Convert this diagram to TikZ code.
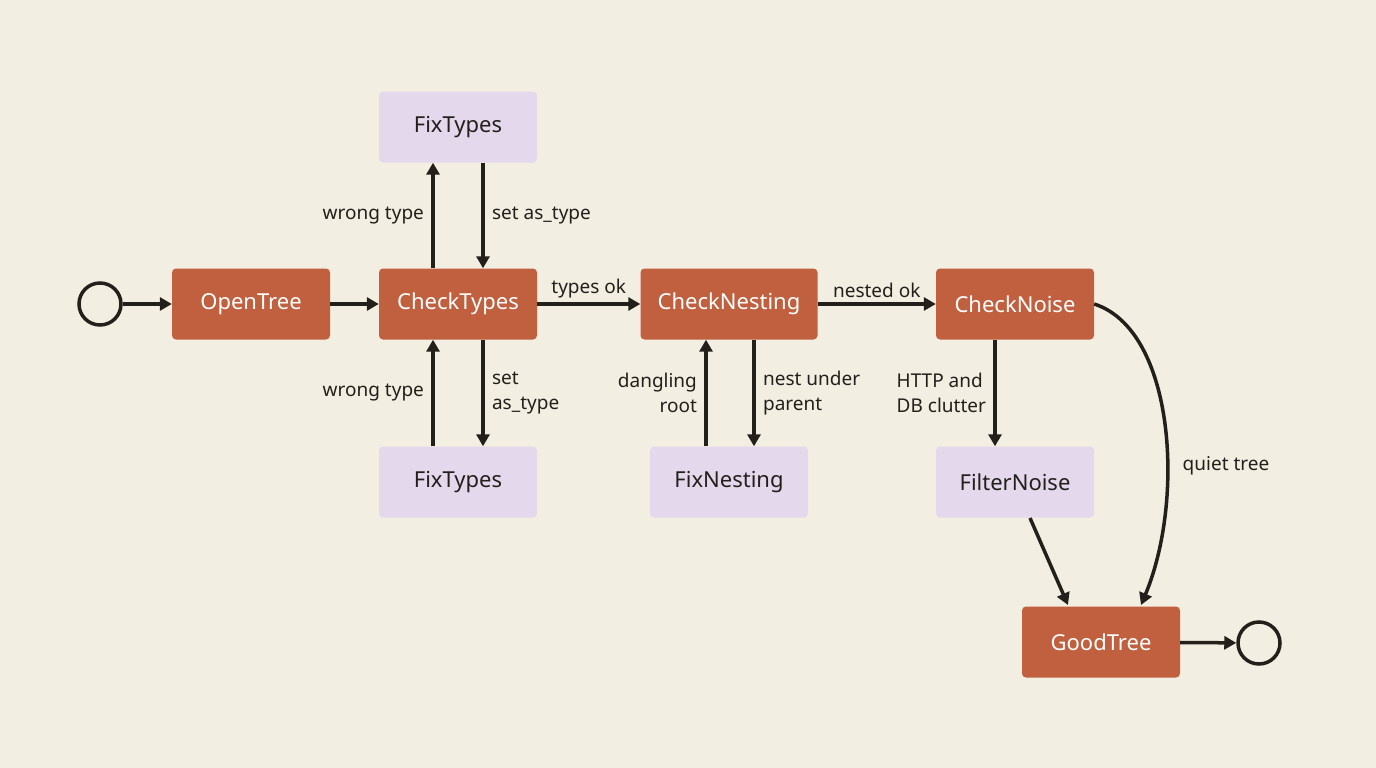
\documentclass[tikz,border=0pt]{standalone}
\usepackage{fontspec}
\setmainfont{Noto Sans}
\usetikzlibrary{arrows.meta}
\definecolor{bg}{HTML}{F3EEE2}
\definecolor{st}{HTML}{C0603F}
\definecolor{fx}{HTML}{E3D8EC}
\definecolor{ink}{HTML}{231F1A}
\begin{document}
\begin{tikzpicture}[x=1pt,y=-1pt,
 state/.style={rectangle,rounded corners=4pt,fill=st,text=white,minimum width=158pt,minimum height=71pt,font=\fontsize{22}{25}\selectfont,inner sep=0pt},
 fix/.style={state,fill=fx,text=ink},
 arr/.style={draw=ink,line width=3.5pt,-{Triangle[length=12pt,width=13pt]}},
 lab/.style={font=\fontsize{19}{25}\selectfont,text=ink,align=left},
 term/.style={circle,draw=ink,line width=3.5pt,minimum size=42pt,inner sep=0pt}]
\fill[bg] (0,0) rectangle (1376,768);
\useasboundingbox (0,0) rectangle (1376,768);
\node[term] (s) at (100,304) {};
\node[state] (open) at (251,304) {OpenTree};
\node[state] (ct) at (458,304) {CheckTypes};
\node[fix] (ft1) at (458,127) {FixTypes};
\node[fix] (ft2) at (458,482) {FixTypes};
\node[state,minimum width=177pt] (cn) at (729,304) {CheckNesting};
\node[fix] (fn) at (729,482) {FixNesting};
\node[state] (cz) at (1015,304) {CheckNoise};
\node[fix] (fz) at (1015,482) {FilterNoise};
\node[state] (gt) at (1101,642) {GoodTree};
\node[term] (e) at (1259,643) {};
\draw[arr] (s) -- (open);
\draw[arr] (open) -- (ct);
\draw[arr] (ct) -- node[lab,above=1pt] {types ok} (cn);
\draw[arr] (cn) -- node[lab,above=1pt] {nested ok} (cz);
\draw[arr] (ct.north -| 433,0) -- node[lab,left=4pt] {wrong type} (ft1.south -| 433,0);
\draw[arr] (ft1.south -| 483,0) -- node[lab,right=4pt] {set as\_type} (ct.north -| 483,0);
\draw[arr] (ft2.north -| 433,0) -- node[lab,left=4pt] {wrong type} (ct.south -| 433,0);
\draw[arr] (ct.south -| 483,0) -- node[lab,right=4pt] {set\\as\_type} (ft2.north -| 483,0);
\draw[arr] (fn.north -| 706,0) -- node[lab,left=4pt,align=right] {dangling\\root} (cn.south -| 706,0);
\draw[arr] (cn.south -| 754,0) -- node[lab,right=4pt] {nest under\\parent} (fn.north -| 754,0);
\draw[arr] (cz.south -| 995,0) -- node[lab,left=4pt] {HTTP and\\DB clutter} (fz.north -| 995,0);
\draw[arr] (1030,518) -- (1068,605);
\draw[arr] (cz.east) .. controls (1175,330) and (1185,500) .. (1141,605);
\node[lab] (q) at (1226,466) {quiet tree};
\draw[arr] (gt) -- (e);
\end{tikzpicture}
\end{document}
